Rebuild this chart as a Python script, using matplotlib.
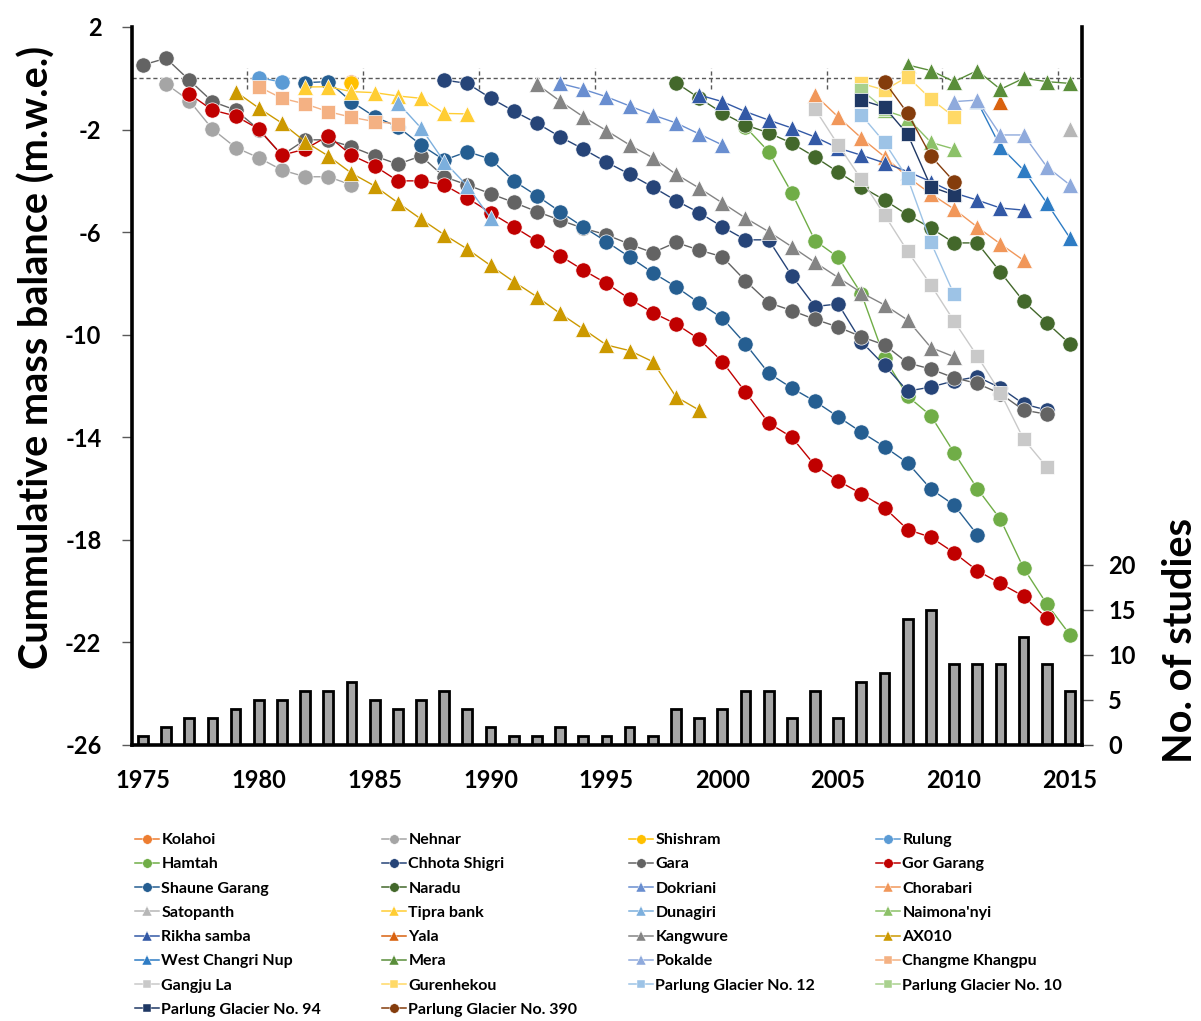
import numpy as np
import matplotlib.pyplot as plt
from matplotlib.lines import Line2D

plt.rcParams['font.family'] = ['Lato', 'DejaVu Sans']
plt.rcParams['font.weight'] = 'bold'
plt.rcParams['axes.unicode_minus'] = False

# number of studies per year (bars, right axis)
bar_years = list(range(1975, 2016))
n_studies = [1, 2, 3, 3, 4, 5, 5, 6, 6, 7, 5, 4, 5, 6, 4, 2, 1, 1, 2, 1, 1,
             2, 1, 4, 3, 4, 6, 6, 3, 6, 3, 7, 8, 14, 15, 9, 9, 9, 12, 9, 6]

# cumulative mass balance per glacier: first year + yearly values (m w.e.)
kolahoi_start, kolahoi = 1984, [-0.15]
nehnar_start, nehnar = 1976, [-0.22, -0.87, -1.98, -2.7, -3.1, -3.58, -3.84, -3.84, -4.16]
shishram_start, shishram = 1984, [-0.2]
rulung_start, rulung = 1980, [0.03, -0.15]
hamtah_start, hamtah = 2001, [-1.9, -2.86, -4.47, -6.33, -6.98, -8.4, -10.9, -12.4, -13.16,
                              -14.6, -16.0, -17.2, -19.1, -20.5, -21.7]
chhota_start, chhota = 1988, [-0.07, -0.2, -0.77, -1.28, -1.75, -2.28, -2.76, -3.27, -3.74,
                              -4.24, -4.77, -5.24, -5.79, -6.3, -6.3, -7.7, -8.9, -8.8,
                              -10.27, -11.2, -12.2, -12.04, -11.8, -11.64, -12.07, -12.7, -12.94]
gara_start, gara = 1975, [0.52, 0.78, -0.07, -0.91, -1.24, -2.0, -3.0, -2.4, -2.4, -2.67,
                          -3.03, -3.35, -3.03, -3.84, -4.16, -4.5, -4.84, -5.2, -5.53, -5.85,
                          -6.1, -6.47, -6.8, -6.4, -6.7, -6.96, -7.9, -8.75, -9.06, -9.4,
                          -9.7, -10.08, -10.4, -11.1, -11.34, -11.68, -11.9, -12.3, -12.94, -13.1]
gor_start, gor = 1977, [-0.61, -1.24, -1.47, -1.98, -3.0, -2.76, -2.25, -3.0, -3.42, -4.0,
                        -4.0, -4.16, -4.67, -5.24, -5.79, -6.35, -6.92, -7.48, -8.0, -8.6,
                        -9.14, -9.58, -10.17, -11.05, -12.24, -13.44, -14.0, -15.1, -15.7,
                        -16.2, -16.75, -17.6, -17.9, -18.5, -19.2, -19.7, -20.2, -21.05]
shaune_start, shaune = 1982, [-0.17, -0.13, -0.91, -1.5, -1.89, -2.6, -3.19, -2.86, -3.15,
                              -4.0, -4.58, -5.2, -5.8, -6.37, -6.97, -7.58, -8.13, -8.76,
                              -9.35, -10.36, -11.5, -12.08, -12.6, -13.2, -13.8, -14.37,
                              -15.0, -16.02, -16.64, -17.8]
naradu_start, naradu = 1998, [-0.17, -0.77, -1.35, -1.82, -2.13, -2.53, -3.07, -3.66, -4.23,
                              -4.75, -5.33, -5.84, -6.42, -6.42, -7.56, -8.7, -9.53, -10.36]
dokriani_start, dokriani = 1993, [-0.2, -0.43, -0.72, -1.08, -1.43, -1.74, -2.17, -2.6]
chorabari_start, chorabari = 2004, [-0.65, -1.51, -2.33, -3.06, -3.85, -4.51, -5.1, -5.8, -6.46, -7.1]
satopanth_start, satopanth = 2015, [-1.97]
tipra_start, tipra = 1982, [-0.34, -0.33, -0.52, -0.56, -0.69, -0.78, -1.37, -1.39]
dunagiri_start, dunagiri = 1986, [-0.95, -1.94, -3.25, -4.2, -5.45]
naimona_start, naimona = 2007, [-1.25, -1.55, -2.5, -2.76]
rikha_start, rikha = 1999, [-0.65, -0.91, -1.3, -1.63, -1.94, -2.29, -2.72, -3.0, -3.3,
                            -3.64, -4.03, -4.47, -4.75, -5.06, -5.14]
yala_start, yala = 2012, [-0.91]
kangwure_start, kangwure = 1992, [-0.23, -0.89, -1.5, -2.04, -2.6, -3.1, -3.74, -4.28, -4.86,
                                  -5.45, -5.98, -6.57, -7.18, -7.77, -8.36, -8.84, -9.43,
                                  -10.5, -10.86]
ax010_start, ax010 = 1979, [-0.52, -1.16, -1.75, -2.47, -3.03, -3.7, -4.2, -4.85, -5.49, -6.1,
                            -6.66, -7.3, -7.93, -8.52, -9.17, -9.78, -10.4, -10.62, -11.05,
                            -12.42, -12.94]
wcn_start, wcn = 2011, [-0.9, -2.67, -3.58, -4.86, -6.23]
mera_start, mera = 2008, [0.52, 0.3, -0.13, 0.3, -0.43, 0.0, -0.13, -0.2]
pokalde_start, pokalde = 2010, [-0.91, -0.85, -2.21, -2.21, -3.45, -4.16]
changme_start, changme = 1980, [-0.33, -0.78, -1.0, -1.3, -1.52, -1.69, -1.78]
gangju_start, gangju = 2004, [-1.2, -2.6, -3.94, -5.33, -6.75, -8.06, -9.47, -10.83, -12.26,
                              -14.07, -15.16]
gurenhekou_start, gurenhekou = 2006, [-0.2, -0.46, 0.06, -0.81, -1.5]
parlung12_start, parlung12 = 2006, [-1.43, -2.5, -3.9, -6.4, -8.43]
parlung10_start, parlung10 = 2006, [-0.45, -1.2]
parlung94_start, parlung94 = 2006, [-0.85, -1.13, -2.19, -4.23, -4.55]
parlung390_start, parlung390 = 2007, [-0.13, -1.37, -3.03, -4.03]

glaciers = [
    ("Kolahoi", kolahoi_start, kolahoi, "o", "#ED7D31"),
    ("Nehnar", nehnar_start, nehnar, "o", "#A5A5A5"),
    ("Shishram", shishram_start, shishram, "o", "#FFC000"),
    ("Rulung", rulung_start, rulung, "o", "#5B9BD5"),
    ("Hamtah", hamtah_start, hamtah, "o", "#70AD47"),
    ("Chhota Shigri", chhota_start, chhota, "o", "#264478"),
    ("Gara", gara_start, gara, "o", "#636363"),
    ("Gor Garang", gor_start, gor, "o", "#C00000"),
    ("Shaune Garang", shaune_start, shaune, "o", "#255E91"),
    ("Naradu", naradu_start, naradu, "o", "#43682B"),
    ("Dokriani", dokriani_start, dokriani, "^", "#698ED0"),
    ("Chorabari", chorabari_start, chorabari, "^", "#F1975A"),
    ("Satopanth", satopanth_start, satopanth, "^", "#B7B7B7"),
    ("Tipra bank", tipra_start, tipra, "^", "#FFCD33"),
    ("Dunagiri", dunagiri_start, dunagiri, "^", "#7CAFDD"),
    ("Naimona'nyi", naimona_start, naimona, "^", "#8CC168"),
    ("Rikha samba", rikha_start, rikha, "^", "#3359A6"),
    ("Yala", yala_start, yala, "^", "#D9620F"),
    ("Kangwure", kangwure_start, kangwure, "^", "#848484"),
    ("AX010", ax010_start, ax010, "^", "#CC9900"),
    ("West Changri Nup", wcn_start, wcn, "^", "#2E7CC4"),
    ("Mera", mera_start, mera, "^", "#5A8E3A"),
    ("Pokalde", pokalde_start, pokalde, "^", "#8FAADC"),
    ("Changme Khangpu", changme_start, changme, "s", "#F4B183"),
    ("Gangju La", gangju_start, gangju, "s", "#C9C9C9"),
    ("Gurenhekou", gurenhekou_start, gurenhekou, "s", "#FFD966"),
    ("Parlung Glacier No. 12", parlung12_start, parlung12, "s", "#9DC3E6"),
    ("Parlung Glacier No. 10", parlung10_start, parlung10, "s", "#A9D18E"),
    ("Parlung Glacier No. 94", parlung94_start, parlung94, "s", "#1F3864"),
    ("Parlung Glacier No. 390", parlung390_start, parlung390, "o", "#843C0C"),
]

W, H = 1201, 1021
fig = plt.figure(figsize=(W / 100, H / 100), dpi=100)
ax = fig.add_axes([132 / W, 1 - 745 / H, 950 / W, 718 / H])
ax2 = ax.twinx()

# bars on the secondary axis, behind the lines
ax2.bar(bar_years, n_studies, width=0.42, color="#A6A6A6", edgecolor="black", linewidth=2)
ax2.set_ylim(0, 79.7)
ax2.set_yticks([0, 5, 10, 15, 20])
ax2.tick_params(axis="y", length=8, width=1, color="#595959", pad=11, labelsize=17)
for s in ("top", "left", "bottom"):
    ax2.spines[s].set_visible(False)
ax2.spines["right"].set_linewidth(2.6)

ax.set_zorder(ax2.get_zorder() + 1)
ax.patch.set_visible(False)

# zero line with category tick marks
ax.axhline(0, color="#595959", lw=1, ls=(0, (3, 2)), zorder=1)
ax.vlines(np.arange(1979.5, 2015, 5), -0.4, 0.4, color="#595959", lw=1,
          linestyles=(0, (3, 2)), zorder=1)

handles = []
for label, start, vals, mk, col in glaciers:
    yrs = np.arange(start, start + len(vals))
    ms = 9.6 if mk == "s" else 11
    ax.plot(yrs, vals, marker=mk, color=col, lw=1.0, ms=ms, mec="white", mew=0.5, zorder=3)
    handles.append(Line2D([], [], marker=mk, color=col, lw=1.1, ms=ms * 0.62,
                          mec="white", mew=0.3, label=label))

ax.set_xlim(1974.53, 2015.52)
ax.set_ylim(-26, 2)
ax.set_xticks(range(1975, 2016, 5))
ax.set_yticks(range(-26, 3, 4))
ax.tick_params(axis="x", length=0, pad=17, labelsize=17)
ax.tick_params(axis="y", length=7, width=1, color="#595959", pad=15, labelsize=17)
for s in ("top", "right"):
    ax.spines[s].set_visible(False)
ax.spines["left"].set_linewidth(2.6)
ax.spines["bottom"].set_linewidth(2.6)

fig.text(37 / W, 1 - 357 / H, "Cummulative mass balance (m.w.e.)", rotation=90,
         ha="center", va="center", fontsize=28.5, fontweight="bold")
fig.text(1180 / W, 1 - 640 / H, "No. of studies", rotation=90,
         ha="center", va="center", fontsize=28.5, fontweight="bold")

# legend laid out row by row in four columns
col_x = [135, 382, 629, 876]
for c in range(4):
    fig.legend(handles=handles[c::4], loc="upper left",
               bbox_to_anchor=(col_x[c] / W, 1 - 833 / H), frameon=False,
               fontsize=11.5, handlelength=1.5, handletextpad=0.15,
               labelspacing=0.63, borderpad=0, borderaxespad=0)

fig.savefig("out.png", dpi=100)
